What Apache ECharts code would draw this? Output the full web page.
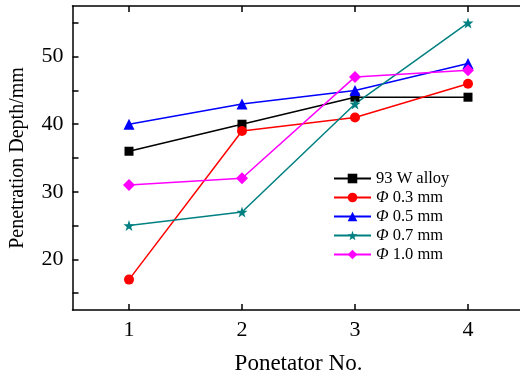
<!DOCTYPE html>
<html>
<head>
<meta charset="utf-8">
<script src="https://cdn.jsdelivr.net/npm/echarts@6/dist/echarts.min.js"></script>
<style>
  html, body { margin: 0; padding: 0; background: #fff; }
  #depthChart { width: 520px; height: 376px; }
</style>
</head>
<body>
<div id="depthChart"></div>
<script>
const penetrators = [1, 2, 3, 4];
const yLabelValues = [20, 30, 40, 50];
const yTickValues = [15, 20, 25, 30, 35, 40, 45, 50, 55];
const alloy93W = [36, 40, 44, 44];
const phi03 = [17, 39, 41, 46];
const phi05 = [40, 43, 45, 49];
const phi07 = [25, 27, 43, 55];
const phi10 = [31, 32, 47, 48];

document.addEventListener('DOMContentLoaded', function() {
  const depthChart = echarts.init(document.getElementById('depthChart'));
  const font = "'Liberation Serif', 'Times New Roman', serif";
  const star = 'path://M0,-10 L2.35,-3.24 L9.51,-3.09 L3.8,1.24 L5.88,8.09 L0,4 L-5.88,8.09 L-3.8,1.24 L-9.51,-3.09 L-2.35,-3.24 Z';
  const tickStyle = { color: '#000', width: 1.5 };

  function line(name, values, color, symbol, size) {
    return {
      name: name,
      type: 'line',
      data: penetrators.map(function(p, i) { return [p, values[i]]; }),
      symbol: symbol,
      symbolSize: size,
      lineStyle: { color: color, width: 1.5 },
      itemStyle: { color: color }
    };
  }

  function xAxisBase(position) {
    return {
      type: 'value',
      position: position,
      min: 0.5,
      max: 4.5,
      splitLine: { show: false },
      axisLine: { show: true, onZero: false, lineStyle: { color: '#000', width: 1.5 } },
      axisTick: { show: true, inside: true, length: 6, customValues: penetrators, lineStyle: tickStyle },
      axisLabel: { show: false }
    };
  }

  const bottomAxis = xAxisBase('bottom');
  bottomAxis.name = 'Ponetator No.';
  bottomAxis.nameLocation = 'middle';
  bottomAxis.nameGap = 42;
  bottomAxis.nameTextStyle = { fontFamily: font, fontSize: 23, color: '#000' };
  bottomAxis.axisLabel = { show: true, fontFamily: font, fontSize: 22, color: '#000', margin: 9, customValues: penetrators };

  const option = {
    animation: false,
    textStyle: { fontFamily: font },
    grid: { left: 72.5, top: 6, width: 452, height: 304, outerBoundsMode: 'none', containLabel: false },
    legend: {
      orient: 'vertical',
      left: 333,
      top: 170,
      padding: 0,
      itemWidth: 37,
      itemHeight: 12,
      itemGap: 2,
      data: ['93 W alloy', 'Φ 0.3 mm', 'Φ 0.5 mm', 'Φ 0.7 mm', 'Φ 1.0 mm'],
      formatter: function(name) {
        return name.charAt(0) === 'Φ' ? '{i|Φ}' + name.slice(1) : name;
      },
      textStyle: {
        fontFamily: font,
        fontSize: 16.5,
        color: '#000',
        rich: { i: { fontFamily: font, fontStyle: 'italic', fontSize: 16.5, color: '#000' } }
      }
    },
    xAxis: [bottomAxis, xAxisBase('top')],
    yAxis: {
      type: 'value',
      min: 12.5,
      max: 57.5,
      name: 'Penetration Depth/mm',
      nameLocation: 'middle',
      nameGap: 45,
      nameTextStyle: { fontFamily: font, fontSize: 20, color: '#000' },
      splitLine: { show: false },
      axisLine: { show: true, onZero: false, lineStyle: { color: '#000', width: 1.5 } },
      axisTick: { show: true, inside: true, length: 6, customValues: yTickValues, lineStyle: tickStyle },
      axisLabel: { fontFamily: font, fontSize: 22, color: '#000', margin: 9, customValues: yLabelValues }
    },
    series: [
      line('93 W alloy', alloy93W, '#000000', 'rect', 9),
      line('Φ 0.3 mm', phi03, '#ff0000', 'circle', 10),
      line('Φ 0.5 mm', phi05, '#0000ff', 'triangle', 11),
      line('Φ 0.7 mm', phi07, '#008080', star, 11),
      line('Φ 1.0 mm', phi10, '#ff00ff', 'diamond', 12)
    ]
  };
  depthChart.setOption(option);
});
</script>
</body>
</html>
